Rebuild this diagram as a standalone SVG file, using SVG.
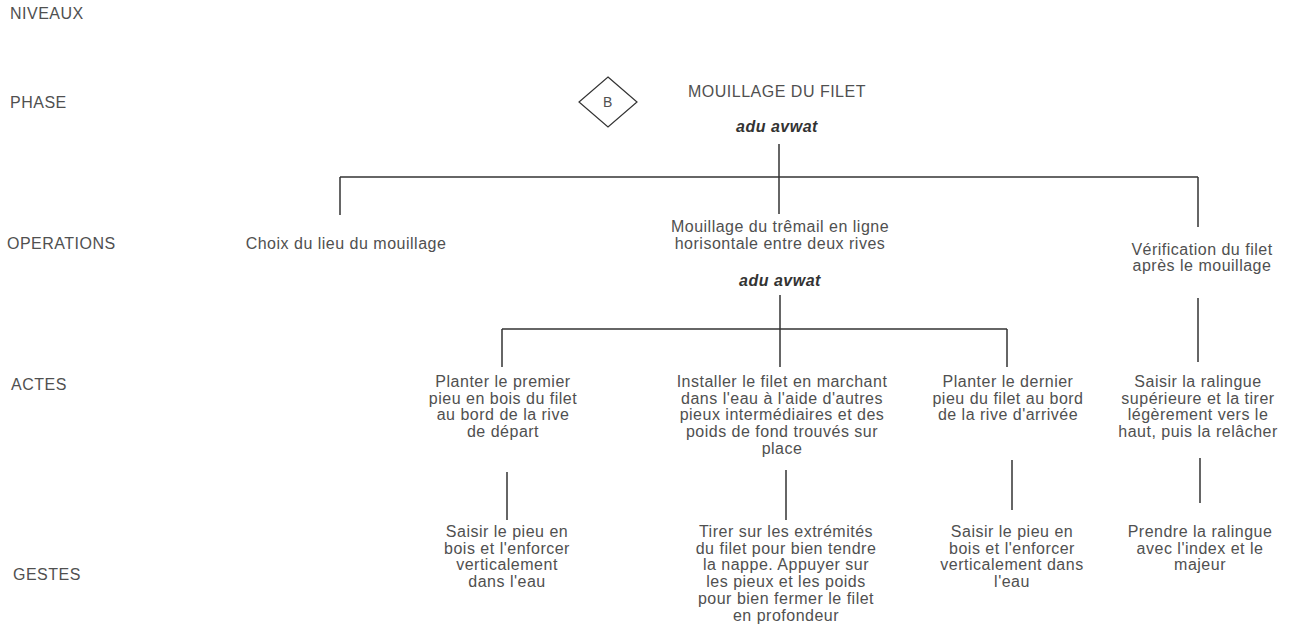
<svg xmlns="http://www.w3.org/2000/svg" width="1293" height="629" viewBox="0 0 1293 629">
<style>
text{font-family:"Liberation Sans",Arial,sans-serif;font-size:16px;fill:#505050;letter-spacing:0.5px}
.c{text-anchor:middle}
.it{font-style:italic;font-weight:bold;fill:#333}
.lbl{fill:#505050}
.ln{stroke:#333;stroke-width:1.5;fill:none}
</style>
<rect width="1293" height="629" fill="#fff"/>
<g id="levels">
<text class="lbl" x="10" y="19">NIVEAUX</text>
<text class="lbl" x="10" y="108">PHASE</text>
<text class="lbl" x="7" y="249">OPERATIONS</text>
<text class="lbl" x="11" y="390">ACTES</text>
<text class="lbl" x="13" y="580">GESTES</text>
</g>
<g id="connectors">
<line class="ln" x1="779" y1="144" x2="779" y2="214"/>
<line class="ln" x1="340" y1="177" x2="1198" y2="177"/>
<line class="ln" x1="340" y1="177" x2="340" y2="215"/>
<line class="ln" x1="1198" y1="177" x2="1198" y2="227"/>
<line class="ln" x1="780" y1="295" x2="780" y2="367"/>
<line class="ln" x1="502" y1="329" x2="1007" y2="329"/>
<line class="ln" x1="502" y1="329" x2="502" y2="367"/>
<line class="ln" x1="1007" y1="329" x2="1007" y2="367"/>
<line class="ln" x1="1198" y1="298" x2="1198" y2="362"/>
<line class="ln" x1="507" y1="472" x2="507" y2="520"/>
<line class="ln" x1="786" y1="470" x2="786" y2="520"/>
<line class="ln" x1="1012" y1="460" x2="1012" y2="510"/>
<line class="ln" x1="1200" y1="458" x2="1200" y2="503"/>
</g>
<g id="phase">
<polygon points="608,77 637,102 608,127 579,102" fill="#fff" stroke="#333" stroke-width="1.2"/>
<text class="c" x="608" y="107" style="font-size:14px">B</text>
<text class="c" x="777" y="97">MOUILLAGE DU FILET</text>
<text class="c it" x="777" y="132">adu avwat</text>
</g>
<g id="op-choix">
<text class="c" x="346" y="249">Choix du lieu du mouillage</text>
</g>
<g id="op-mouillage">
<text class="c" x="780" y="232">Mouillage du trêmail en ligne</text>
<text class="c" x="780" y="249">horisontale entre deux rives</text>
<text class="c it" x="780" y="286">adu avwat</text>
</g>
<g id="op-verification">
<text class="c" x="1202" y="255">Vérification du filet</text>
<text class="c" x="1202" y="271">après le mouillage</text>
</g>
<g id="acte-1">
<text class="c" x="503" y="387">Planter le premier</text>
<text class="c" x="503" y="403.7">pieu en bois du filet</text>
<text class="c" x="503" y="420.4">au bord de la rive</text>
<text class="c" x="503" y="437">de départ</text>
</g>
<g id="acte-2">
<text class="c" x="782" y="387">Installer le filet en marchant</text>
<text class="c" x="782" y="403.7">dans l'eau à l'aide d'autres</text>
<text class="c" x="782" y="420.4">pieux intermédiaires et des</text>
<text class="c" x="782" y="437">poids de fond trouvés sur</text>
<text class="c" x="782" y="453.8">place</text>
</g>
<g id="acte-3">
<text class="c" x="1008" y="387">Planter le dernier</text>
<text class="c" x="1008" y="403.7">pieu du filet au bord</text>
<text class="c" x="1008" y="420.4">de la rive d'arrivée</text>
</g>
<g id="acte-4">
<text class="c" x="1198" y="387">Saisir la ralingue</text>
<text class="c" x="1198" y="403.7">supérieure et la tirer</text>
<text class="c" x="1198" y="420.4">légèrement vers le</text>
<text class="c" x="1198" y="437">haut, puis la relâcher</text>
</g>
<g id="geste-1">
<text class="c" x="507" y="537">Saisir le pieu en</text>
<text class="c" x="507" y="553.7">bois et l'enforcer</text>
<text class="c" x="507" y="570.4">verticalement</text>
<text class="c" x="507" y="587">dans l'eau</text>
</g>
<g id="geste-2">
<text class="c" x="786" y="537">Tirer sur les extrémités</text>
<text class="c" x="786" y="553.7">du filet pour bien tendre</text>
<text class="c" x="786" y="570.4">la nappe. Appuyer sur</text>
<text class="c" x="786" y="587">les pieux et les poids</text>
<text class="c" x="786" y="603.8">pour bien fermer le filet</text>
<text class="c" x="786" y="620.5">en profondeur</text>
</g>
<g id="geste-3">
<text class="c" x="1012" y="537">Saisir le pieu en</text>
<text class="c" x="1012" y="553.7">bois et l'enforcer</text>
<text class="c" x="1012" y="570.4">verticalement dans</text>
<text class="c" x="1012" y="587">l'eau</text>
</g>
<g id="geste-4">
<text class="c" x="1200" y="537">Prendre la ralingue</text>
<text class="c" x="1200" y="553.7">avec l'index et le</text>
<text class="c" x="1200" y="570.4">majeur</text>
</g>
</svg>
